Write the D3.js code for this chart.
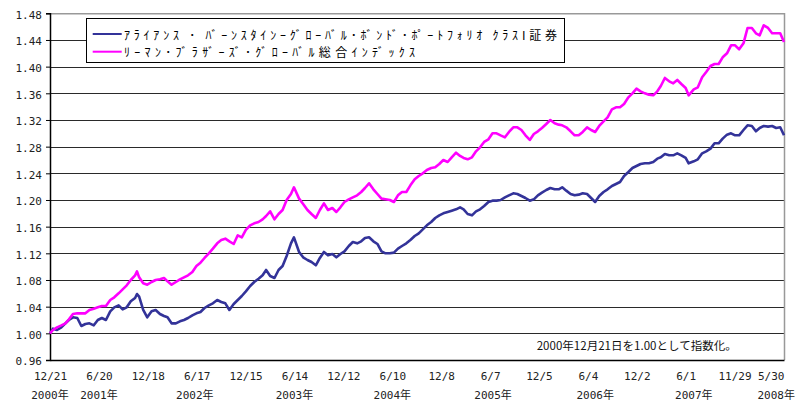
<!DOCTYPE html>
<html>
<head>
<meta charset="utf-8">
<script src="https://cdn.jsdelivr.net/npm/d3@7"></script>
<style>
  body { margin: 0; background: #fff; }
  svg { display: block; }
</style>
</head>
<body>
<script>
// data (semi-monthly points)
//=======================
var dates = [
  "2000-12-21",
  "2001-01-01","2001-01-16","2001-02-01","2001-02-16","2001-03-01","2001-03-16","2001-04-01","2001-04-16","2001-05-01","2001-05-16","2001-06-01","2001-06-16",
  "2001-07-01","2001-07-16","2001-08-01","2001-08-16","2001-09-01","2001-09-16","2001-10-01","2001-10-16","2001-11-01","2001-11-08","2001-11-16","2001-12-01","2001-12-16",
  "2002-01-01","2002-01-16","2002-02-01","2002-02-16","2002-03-01","2002-03-16","2002-04-01","2002-04-16","2002-05-01","2002-05-16","2002-06-01","2002-06-16",
  "2002-07-01","2002-07-16","2002-08-01","2002-08-16","2002-09-01","2002-09-16","2002-10-01","2002-10-16","2002-11-01","2002-11-16","2002-12-01","2002-12-16",
  "2003-01-01","2003-01-16","2003-02-01","2003-02-16","2003-03-01","2003-03-16","2003-04-01","2003-04-16","2003-05-01","2003-05-16","2003-06-01","2003-06-12",
  "2003-07-01","2003-07-16","2003-08-01","2003-08-16","2003-09-01","2003-09-16","2003-10-01","2003-10-16","2003-11-01","2003-11-16","2003-12-01","2003-12-16",
  "2004-01-01","2004-01-16","2004-02-01","2004-02-16","2004-03-01","2004-03-16","2004-04-01","2004-04-16","2004-05-01","2004-05-16","2004-06-01","2004-06-16",
  "2004-07-01","2004-07-16","2004-08-01","2004-08-16","2004-09-01","2004-09-16","2004-10-01","2004-10-16","2004-11-01","2004-11-16","2004-12-01","2004-12-16",
  "2005-01-01","2005-01-16","2005-02-01","2005-02-16","2005-03-01","2005-03-16","2005-04-01","2005-04-16","2005-05-01","2005-05-16","2005-06-01","2005-06-16",
  "2005-07-01","2005-07-16","2005-08-01","2005-08-16","2005-09-01","2005-09-16","2005-10-01","2005-10-16","2005-11-01","2005-11-16","2005-12-01","2005-12-16",
  "2006-01-01","2006-01-16","2006-02-01","2006-02-16","2006-03-01","2006-03-16","2006-04-01","2006-04-16","2006-05-01","2006-05-16","2006-06-01","2006-06-16",
  "2006-07-01","2006-07-16","2006-08-01","2006-08-16","2006-09-01","2006-09-16","2006-10-01","2006-10-16","2006-11-01","2006-11-16","2006-12-01","2006-12-16",
  "2007-01-01","2007-01-16","2007-02-01","2007-02-16","2007-03-01","2007-03-16","2007-04-01","2007-04-16","2007-05-01","2007-05-16","2007-06-01","2007-06-12",
  "2007-07-01","2007-07-16","2007-08-01","2007-08-16","2007-09-01","2007-09-16","2007-10-01","2007-10-16","2007-11-01","2007-11-16","2007-12-01","2007-12-16",
  "2008-01-01","2008-01-16","2008-02-01","2008-02-16","2008-03-01","2008-03-16","2008-04-01","2008-04-16","2008-05-01","2008-05-16","2008-05-30"
];

// アライアンス・バーンスタイン グローバル・ボンド・ポートフォリオ クラスI
var fundValues = [
  1.000,
  1.007,1.005,1.009,1.015,1.020,1.024,1.023,1.011,1.014,1.015,1.012,1.020,
  1.023,1.020,1.033,1.039,1.042,1.036,1.039,1.048,1.053,1.059,1.055,1.035,1.024,
  1.033,1.035,1.029,1.026,1.024,1.015,1.015,1.018,1.020,1.023,1.027,1.030,
  1.032,1.038,1.042,1.045,1.050,1.047,1.045,1.035,1.044,1.050,1.056,1.063,
  1.071,1.077,1.082,1.087,1.095,1.086,1.083,1.095,1.101,1.116,1.135,1.144,
  1.122,1.114,1.110,1.107,1.102,1.113,1.122,1.117,1.119,1.114,1.119,1.123,
  1.131,1.137,1.135,1.138,1.143,1.144,1.138,1.134,1.123,1.120,1.120,1.121,
  1.127,1.131,1.135,1.140,1.146,1.150,1.156,1.162,1.167,1.173,1.177,1.180,
  1.182,1.184,1.186,1.189,1.186,1.179,1.177,1.183,1.186,1.191,1.197,1.199,
  1.199,1.200,1.204,1.207,1.210,1.209,1.206,1.203,1.199,1.201,1.207,1.211,
  1.215,1.218,1.216,1.216,1.219,1.214,1.209,1.207,1.208,1.210,1.209,1.203,
  1.197,1.206,1.212,1.216,1.221,1.224,1.227,1.236,1.242,1.248,1.251,1.254,
  1.255,1.255,1.257,1.262,1.264,1.269,1.267,1.267,1.270,1.267,1.263,1.255,
  1.258,1.261,1.270,1.273,1.277,1.285,1.285,1.292,1.298,1.300,1.297,1.297,
  1.305,1.312,1.311,1.303,1.308,1.311,1.310,1.311,1.308,1.309,1.297
];

// リーマン・ブラザーズ・グローバル総合インデックス
var indexValues = [
  1.000,
  1.005,1.009,1.012,1.015,1.021,1.029,1.030,1.030,1.030,1.035,1.037,1.039,
  1.041,1.041,1.050,1.054,1.060,1.066,1.072,1.080,1.087,1.093,1.084,1.075,1.073,
  1.077,1.080,1.081,1.083,1.078,1.073,1.077,1.081,1.084,1.087,1.092,1.101,
  1.106,1.113,1.120,1.127,1.135,1.140,1.142,1.138,1.134,1.147,1.144,1.155,
  1.162,1.165,1.167,1.171,1.176,1.183,1.171,1.179,1.185,1.200,1.209,1.219,
  1.202,1.194,1.185,1.179,1.173,1.185,1.195,1.185,1.188,1.182,1.189,1.197,
  1.201,1.204,1.207,1.212,1.218,1.225,1.216,1.209,1.202,1.201,1.200,1.197,
  1.207,1.212,1.212,1.222,1.231,1.236,1.240,1.245,1.248,1.249,1.254,1.260,
  1.257,1.264,1.271,1.266,1.263,1.261,1.264,1.273,1.279,1.287,1.291,1.300,
  1.300,1.297,1.294,1.302,1.309,1.309,1.305,1.297,1.290,1.299,1.303,1.308,
  1.314,1.320,1.315,1.313,1.312,1.309,1.303,1.297,1.297,1.302,1.309,1.305,
  1.302,1.311,1.318,1.324,1.336,1.339,1.339,1.344,1.354,1.360,1.367,1.363,
  1.360,1.358,1.357,1.363,1.371,1.383,1.378,1.375,1.380,1.374,1.368,1.357,
  1.366,1.369,1.384,1.392,1.401,1.404,1.404,1.414,1.420,1.432,1.432,1.426,
  1.435,1.458,1.458,1.450,1.447,1.462,1.458,1.450,1.450,1.450,1.437
];

var seriesNames = [
  "ｱﾗｲｱﾝｽ ･ ﾊﾞｰﾝｽﾀｲﾝｰｸﾞﾛｰﾊﾞﾙ･ﾎﾞﾝﾄﾞ･ﾎﾟｰﾄﾌｫﾘｵ ｸﾗｽI証券",
  "ﾘｰﾏﾝ･ﾌﾞﾗｻﾞｰｽﾞ･ｸﾞﾛｰﾊﾞﾙ総合ｲﾝﾃﾞｯｸｽ"
];
var seriesColors = ["#333399", "#ff00ff"];

var yTicks = [0.96, 1.00, 1.04, 1.08, 1.12, 1.16, 1.20, 1.24, 1.28, 1.32, 1.36, 1.40, 1.44, 1.48];
var xTickDates = ["2000-12-21","2001-06-20","2001-12-18","2002-06-17","2002-12-15","2003-06-14","2003-12-12",
  "2004-06-10","2004-12-08","2005-06-07","2005-12-05","2006-06-04","2006-12-02","2007-06-01","2007-11-29","2008-05-30"];
var yearLabels = ["2000年","2001年","2002年","2003年","2004年","2005年","2006年","2007年","2008年"];
var yearLabelDates = ["2000-12-21","2001-06-20","2002-06-10","2003-06-14","2004-06-10","2005-06-18","2006-07-01","2007-07-01","2008-05-01"];
var note = "2000年12月21日を1.00として指数化。";

//setup SVG area
//=======================
var svgWidth = 803;
var svgHeight = 404;
var margin = { top: 13.3, right: 19, bottom: 44, left: 50 };
var width = svgWidth - margin.left - margin.right;
var height = svgHeight - margin.top - margin.bottom;

var parse = d3.timeParse("%Y-%m-%d");
var fmtTick = d3.timeFormat("%-m/%-d");
var monoFont = "'DejaVu Sans Mono', 'Noto Sans CJK JP', monospace";
var jpFont = "'Noto Sans CJK JP', sans-serif";

var svg = d3.select("body").append("svg")
  .attr("width", svgWidth)
  .attr("height", svgHeight);

svg.append("rect").attr("width", svgWidth).attr("height", svgHeight).attr("fill", "#fff");

var chartGroup = svg.append("g")
  .attr("transform", `translate(${margin.left}, ${margin.top})`);

// scales
var xScale = d3.scaleTime()
  .domain([parse(dates[0]), parse(dates[dates.length - 1])])
  .range([0, width]);
var yScale = d3.scaleLinear()
  .domain([0.96, 1.48])
  .range([height, 0]);

// gridlines
var grid = chartGroup.append("g")
  .call(d3.axisLeft(yScale).tickValues(yTicks).tickSize(-width).tickFormat(""));
grid.select(".domain").remove();
grid.selectAll("line").attr("stroke", "#2a2a2a").attr("stroke-width", 1)
  .attr("shape-rendering", "crispEdges");

// frame (top / right gray)
chartGroup.append("path")
  .attr("d", `M0,0.5H${width + 0.5}V${height}`)
  .attr("fill", "none").attr("stroke", "#999").attr("stroke-width", 1.5);

// left axis
var leftAxis = chartGroup.append("g")
  .call(d3.axisLeft(yScale).tickValues(yTicks).tickSize(4).tickPadding(4).tickFormat(d3.format(".2f")));
leftAxis.select(".domain").attr("stroke", "#000").attr("stroke-width", 1.5);
leftAxis.selectAll("line").attr("stroke", "#000");
leftAxis.selectAll("text")
  .attr("font-family", monoFont).attr("font-size", 11).attr("fill", "#222").attr("dy", "0.45em");

// bottom axis
var bottomAxis = chartGroup.append("g")
  .attr("transform", `translate(0, ${height})`)
  .call(d3.axisBottom(xScale).tickValues(xTickDates.map(parse)).tickSize(0).tickPadding(12).tickFormat(fmtTick));
bottomAxis.select(".domain").attr("stroke", "#000").attr("stroke-width", 1.5);
bottomAxis.selectAll("text")
  .attr("font-family", monoFont).attr("font-size", 11).attr("fill", "#222")
  .attr("text-anchor", function (d, i) { return i === xTickDates.length - 1 ? "end" : "middle"; });

// year labels
chartGroup.append("g").selectAll("text")
  .data(yearLabels)
  .enter().append("text")
  .attr("x", function (d, i) { return xScale(parse(yearLabelDates[i])); })
  .attr("y", height + 39)
  .attr("text-anchor", "middle")
  .attr("font-family", monoFont).attr("font-size", 11).attr("fill", "#222")
  .text(function (d) { return d; });

// lines
var series = [fundValues, indexValues];
var line = d3.line()
  .x(function (d, i) { return xScale(parse(dates[i])); })
  .y(function (d) { return yScale(d); });

chartGroup.selectAll(".series")
  .data(series)
  .enter().append("path")
  .attr("class", "series")
  .attr("d", line)
  .attr("fill", "none")
  .attr("stroke", function (d, i) { return seriesColors[i]; })
  .attr("stroke-width", 2.6)
  .attr("stroke-linejoin", "round");

// note
chartGroup.append("text")
  .attr("x", 486.7).attr("y", height - 15)
  .attr("dominant-baseline", "central")
  .attr("font-family", jpFont).attr("font-size", 11.5).attr("fill", "#111")
  .attr("textLength", 200).attr("lengthAdjust", "spacing")
  .text(note);

// legend
var legend = svg.append("g");
legend.append("rect")
  .attr("x", 86.5).attr("y", 18.5).attr("width", 478).attr("height", 44)
  .attr("fill", "#fff").attr("stroke", "#000").attr("stroke-width", 1);
var legendWidths = [433, 291];
seriesNames.forEach(function (name, i) {
  var ly = 34 + i * 17.7;
  legend.append("line")
    .attr("x1", 92.7).attr("x2", 121.7).attr("y1", ly).attr("y2", ly)
    .attr("stroke", seriesColors[i]).attr("stroke-width", 2);
  legend.append("text")
    .attr("x", 124).attr("y", ly)
    .attr("dominant-baseline", "central")
    .attr("font-family", jpFont).attr("font-size", 12).attr("fill", "#000")
    .attr("textLength", legendWidths[i]).attr("lengthAdjust", "spacing")
    .text(name);
});
</script>
</body>
</html>
